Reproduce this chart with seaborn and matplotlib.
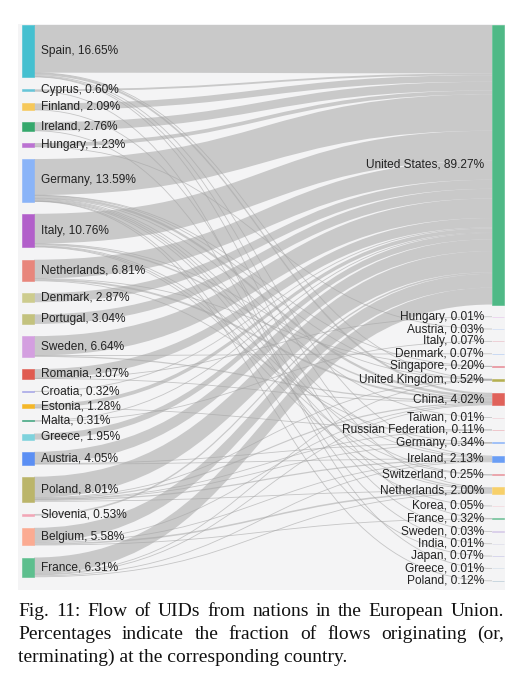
import matplotlib
matplotlib.use('Agg')
import matplotlib.pyplot as plt
from matplotlib.path import Path
from matplotlib.patches import PathPatch, Rectangle
import seaborn as sns

# source nodes (EU countries) and their share of flows
left_names = ['Spain', 'Cyprus', 'Finland', 'Ireland', 'Hungary', 'Germany', 'Italy',
              'Netherlands', 'Denmark', 'Portugal', 'Sweden', 'Romania', 'Croatia',
              'Estonia', 'Malta', 'Greece', 'Austria', 'Poland', 'Slovenia', 'Belgium', 'France']
left_pct = [16.65, 0.60, 2.09, 2.76, 1.23, 13.59, 10.76, 6.81, 2.87, 3.04, 6.64,
            3.07, 0.32, 1.28, 0.31, 1.95, 4.05, 8.01, 0.53, 5.58, 6.31]

# destination nodes
right_names = ['United States', 'Hungary', 'Austria', 'Italy', 'Denmark', 'Singapore',
               'United Kingdom', 'China', 'Taiwan', 'Russian Federation', 'Germany',
               'Ireland', 'Switzerland', 'Netherlands', 'Korea', 'France', 'Sweden',
               'India', 'Japan', 'Greece', 'Poland']
right_pct = [89.27, 0.01, 0.03, 0.07, 0.07, 0.20, 0.52, 4.02, 0.01, 0.11, 0.34,
             2.13, 0.25, 2.00, 0.05, 0.32, 0.03, 0.01, 0.07, 0.01, 0.12]

# flow from each source to the United States
us_flow = [15.23, 0.59, 2.06, 2.75, 1.20, 11.49, 9.46, 5.97, 2.87, 3.04, 6.17,
           2.94, 0.32, 1.23, 0.24, 1.95, 3.72, 6.65, 0.53, 4.38, 5.29]

# the other (smaller) flows
flow_src = ['Spain', 'Spain', 'Spain', 'Spain', 'Spain',
            'Cyprus', 'Finland', 'Ireland', 'Hungary',
            'Germany', 'Germany', 'Germany', 'Germany', 'Germany',
            'Germany', 'Germany', 'Germany', 'Germany', 'Germany',
            'Italy', 'Italy', 'Italy', 'Italy', 'Italy',
            'Netherlands', 'Netherlands', 'Netherlands',
            'Sweden', 'Sweden', 'Romania', 'Romania', 'Estonia', 'Malta',
            'Austria', 'Austria',
            'Poland', 'Poland', 'Poland', 'Poland', 'Poland', 'Poland',
            'Belgium', 'Belgium', 'Belgium', 'Belgium',
            'France', 'France', 'France', 'France']
flow_dst = ['China', 'Ireland', 'Netherlands', 'United Kingdom', 'France',
            'Greece', 'Sweden', 'India', 'Austria',
            'China', 'Ireland', 'Netherlands', 'United Kingdom', 'Switzerland',
            'Singapore', 'Poland', 'Japan', 'Korea', 'Taiwan',
            'China', 'Ireland', 'Netherlands', 'United Kingdom', 'Switzerland',
            'China', 'Germany', 'Singapore',
            'China', 'Denmark', 'China', 'Hungary', 'Russian Federation', 'Italy',
            'Ireland', 'Germany',
            'China', 'Ireland', 'Netherlands', 'United Kingdom', 'Germany', 'Russian Federation',
            'China', 'Ireland', 'Netherlands', 'France',
            'China', 'Ireland', 'Netherlands', 'United Kingdom']
flow_val = [0.70, 0.30, 0.20, 0.10, 0.12,
            0.01, 0.03, 0.01, 0.03,
            0.80, 0.30, 0.40, 0.10, 0.15,
            0.10, 0.12, 0.07, 0.05, 0.01,
            0.50, 0.30, 0.30, 0.10, 0.10,
            0.60, 0.14, 0.10,
            0.40, 0.07, 0.12, 0.01, 0.05, 0.07,
            0.23, 0.10,
            0.40, 0.40, 0.30, 0.10, 0.10, 0.06,
            0.20, 0.30, 0.50, 0.20,
            0.30, 0.30, 0.30, 0.12]

left_colors = ['#45c0d0', '#67c5d8', '#f6c85a', '#35a86c', '#bb72d2', '#8ab4f8', '#b25fca',
               '#e8867c', '#cdcc8e', '#c3c27e', '#d49fe0', '#e05b50', '#a3a3e6', '#f4b728',
               '#3ba37c', '#7ed2dc', '#5b8ff4', '#bbb56a', '#f2a6b6', '#fbab92', '#5dbf8e']
right_colors = ['#4fb986', '#e6c2ec', '#c4d6f4', '#e9b6c0', '#a9c6f2', '#e88a95', '#b5b050',
                '#e0625a', '#f0c8d0', '#eba4ad', '#8ab4f8', '#6a9ef5', '#e8929b', '#f7d06a',
                '#f4d0d6', '#6abf95', '#d5c8e8', '#d8d8e8', '#c3c0e6', '#d0dce8', '#a9c0cf']

sns.set_theme(style='white')
plt.rcParams['font.family'] = ['Liberation Sans', 'DejaVu Sans']

W, H = 525, 680
fig = plt.figure(figsize=(W / 100, H / 100), dpi=100)
fig.patch.set_facecolor('white')
ax = fig.add_axes([18 / W, 1 - 590 / H, 487 / W, 566 / H])
ax.set_xlim(18, 505)
ax.set_ylim(590, 24)
ax.set_facecolor('#f4f4f5')
ax.set_xticks([])
ax.set_yticks([])
sns.despine(ax=ax, left=True, bottom=True)

# layout
top, col_h, pad = 25, 556, 12.2
left_x, right_x, node_w = 22, 492, 12
scale = (col_h - pad * (len(left_names) - 1)) / max(sum(left_pct), sum(right_pct))


def stack(pcts):
    ys, y = [], top
    for p in pcts:
        ys.append(y)
        y += p * scale + pad
    return ys


left_y = stack(left_pct)
right_y = stack(right_pct)

# all links as (src index, dst index, value)
links = [(i, 0, v) for i, v in enumerate(us_flow)]
for s, d, v in zip(flow_src, flow_dst, flow_val):
    links.append((left_names.index(s), right_names.index(d), v))

# stacking at source: ordered by destination; at target: ordered by source
src_pos = {}
for i in range(len(left_names)):
    y = left_y[i]
    for k in sorted([k for k, l in enumerate(links) if l[0] == i], key=lambda k: links[k][1]):
        h = links[k][2] * scale
        src_pos[k] = (y, y + h)
        y += h
dst_pos = {}
for j in range(len(right_names)):
    ks = sorted([k for k, l in enumerate(links) if l[1] == j], key=lambda k: links[k][0])
    tot = sum(links[k][2] for k in ks)
    f = right_pct[j] / tot if tot else 1
    y = right_y[j]
    for k in ks:
        h = links[k][2] * scale * f
        dst_pos[k] = (y, y + h)
        y += h

x0, x1 = left_x + node_w, right_x
xm = (x0 + x1) / 2
link_col = '#a6a6a6'
for k, (i, j, v) in enumerate(links):
    a0, a1 = src_pos[k]
    b0, b1 = dst_pos[k]
    if a1 - a0 < 1.0:
        ac, bc = (a0 + a1) / 2, (b0 + b1) / 2
        p = Path([(x0, ac), (xm, ac), (xm, bc), (x1, bc)],
                 [Path.MOVETO, Path.CURVE4, Path.CURVE4, Path.CURVE4])
        ax.add_patch(PathPatch(p, fc='none', ec=link_col, lw=0.6, alpha=0.6))
    else:
        p = Path([(x0, a0), (xm, a0), (xm, b0), (x1, b0), (x1, b1),
                  (xm, b1), (xm, a1), (x0, a1), (x0, a0)],
                 [Path.MOVETO, Path.CURVE4, Path.CURVE4, Path.CURVE4, Path.LINETO,
                  Path.CURVE4, Path.CURVE4, Path.CURVE4, Path.CLOSEPOLY])
        ax.add_patch(PathPatch(p, fc=link_col, ec='none', alpha=0.55))

# nodes and labels
for name, pct, y, c in zip(left_names, left_pct, left_y, left_colors):
    h = pct * scale
    ax.add_patch(Rectangle((left_x, y), node_w, h, fc=c, ec=c, lw=0.4))
    ax.text(left_x + node_w + 7, y + h / 2, f'{name}, {pct:.2f}%', ha='left', va='center',
            fontsize=8.6, color='#222222')
for name, pct, y, c in zip(right_names, right_pct, right_y, right_colors):
    h = pct * scale
    ax.add_patch(Rectangle((right_x, y), node_w, h, fc=c, ec=c, lw=0.4))
    ax.text(right_x - 8, y + h / 2, f'{name}, {pct:.2f}%', ha='right', va='center',
            fontsize=8.6, color='#222222')

# caption, justified like the paper
renderer = fig.canvas.get_renderer()
cap_lines = ["Fig. 11: Flow of UIDs from nations in the European Union.",
             "Percentages indicate the fraction of flows originating (or,",
             "terminating) at the corresponding country."]
cap_base = [616, 639, 662]
cap_font = dict(family=['Liberation Serif', 'DejaVu Serif'], fontsize=14, color='#111111',
                va='baseline', ha='left')
for n, (line, yb) in enumerate(zip(cap_lines, cap_base)):
    if n == len(cap_lines) - 1:
        fig.text(18 / W, 1 - yb / H, line, **cap_font)
        continue
    words = line.split()
    texts = [fig.text(0, 1 - yb / H, w, **cap_font) for w in words]
    widths = [t.get_window_extent(renderer).width for t in texts]
    gap = (504 - 18 - sum(widths)) / (len(words) - 1)
    x = 18
    for t, w in zip(texts, widths):
        t.set_x(x / W)
        x += w + gap

fig.savefig('out.png', dpi=100)
